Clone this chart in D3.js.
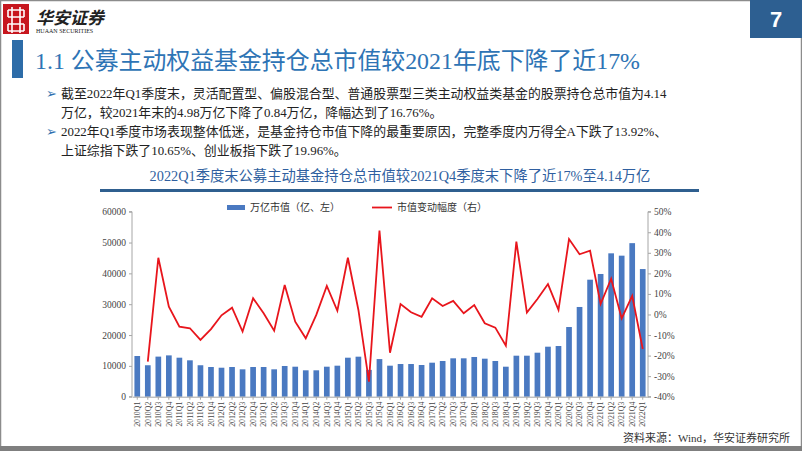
<!DOCTYPE html>
<html><head><meta charset="utf-8">
<script src="https://cdn.jsdelivr.net/npm/d3@7"></script>
<style>
body{margin:0;background:#fff;}
svg{display:block;}
</style></head>
<body>
<svg id="c" width="802" height="451"></svg>
<script>
const categories = ["2010Q1","2010Q2","2010Q3","2010Q4","2011Q1","2011Q2","2011Q3","2011Q4","2012Q1","2012Q2","2012Q3","2012Q4","2013Q1","2013Q2","2013Q3","2013Q4","2014Q1","2014Q2","2014Q3","2014Q4","2015Q1","2015Q2","2015Q3","2015Q4","2016Q1","2016Q2","2016Q3","2016Q4","2017Q1","2017Q2","2017Q3","2017Q4","2018Q1","2018Q2","2018Q3","2018Q4","2019Q1","2019Q2","2019Q3","2019Q4","2020Q1","2020Q2","2020Q3","2020Q4","2021Q1","2021Q2","2021Q3","2021Q4","2022Q1"];
const marketValue = [13200,10200,13000,13400,12650,11800,10200,9630,9400,9630,8880,9630,9630,8880,9960,9730,8560,8560,9730,10060,12650,12980,8700,12200,10060,10600,10600,10280,11030,11580,12450,12450,12880,12330,11580,9730,13300,13300,14270,16220,16440,22600,29100,37950,39800,46500,45740,49800,41400];
const changePct = [null,-22.9,27.6,3.8,-5.9,-6.7,-12.4,-7.1,-0.4,3.3,-8.3,7.9,0.6,-7.9,14.4,-3.5,-11.6,-0.2,13.9,1.8,27.6,2.2,-32.7,40.8,-18.6,5.1,1.1,-1.1,7.9,4.1,6.6,0.6,4.6,-4.3,-6.4,-15.2,35.4,0.9,7.5,14.8,2.2,36.7,29.3,31.0,5.1,17.4,-1.9,9.1,-16.8];
const leftTicks = [0,10000,20000,30000,40000,50000,60000];
const rightTicks = [-40,-30,-20,-10,0,10,20,30,40,50];
const legendLabels = ["万亿市值（亿、左）","市值变动幅度（右）"];

const svg = d3.select("#c");
const serif = "'Liberation Serif','Times New Roman','Noto Sans CJK SC',serif";
const cjk = "'Liberation Serif','Noto Sans CJK SC',serif";

// frame
svg.append("rect").attr("x",0.5).attr("y",0.5).attr("width",801).attr("height",447).attr("fill","none").attr("stroke","#8c8c8c").attr("stroke-width",1.5);
svg.append("rect").attr("x",0).attr("y",446).attr("width",802).attr("height",5).attr("fill","#7f7f7f");

// logo
const lg = svg.append("g");
lg.append("rect").attr("x",3).attr("y",4).attr("width",26).attr("height",30).attr("fill","#c7161e");
lg.append("path").attr("d","M8 10 H24 M8 17 H24 M8 24 H24 M8 31 H24 M12 7 V33 M20 7 V33 M8 10 V17 M24 10 V17 M8 24 V31 M24 24 V31").attr("stroke","#fff").attr("stroke-width",1.6).attr("fill","none");
lg.append("text").attr("x",36).attr("y",24).text("华安证券").attr("font-family","'Noto Sans CJK SC'").attr("font-size",17).attr("font-style","italic").attr("font-weight",700).attr("fill","#222");
lg.append("text").attr("x",36).attr("y",33).text("HUAAN SECURITIES").attr("font-family",serif).attr("font-size",6).attr("fill","#222");

// page number box
svg.append("rect").attr("x",750).attr("y",0).attr("width",52).attr("height",38).attr("fill","#2d5f91");
svg.append("text").attr("x",776).attr("y",27).attr("text-anchor","middle").text("7").attr("font-family","'Liberation Sans',Arial,sans-serif").attr("font-weight",700).attr("font-size",22).attr("fill","#fff");

// title
svg.append("rect").attr("x",12).attr("y",40).attr("width",11).attr("height",38).attr("fill","#2d6ca8");
svg.append("text").attr("x",35).attr("y",69).text("1.1 公募主动权益基金持仓总市值较2021年底下降了近17%").attr("font-family",cjk).attr("font-size",24).attr("textLength",605).attr("lengthAdjust","spacingAndGlyphs").attr("fill","#2e74b5");

// bullets
const bullets = [
 [["截至2022年Q1季度末，灵活配置型、偏股混合型、普通股票型三类主动权益类基金的股票持仓总市值为4.14",98],["万亿，较2021年末的4.98万亿下降了0.84万亿，降幅达到了16.76%。",117]],
 [["2022年Q1季度市场表现整体低迷，是基金持仓市值下降的最重要原因，完整季度内万得全A下跌了13.92%、",136],["上证综指下跌了10.65%、创业板指下跌了19.96%。",155]]
];
bullets.forEach(b=>{
  svg.append("text").attr("x",46).attr("y",b[0][1]).text("➢").attr("font-family","'DejaVu Sans'").attr("font-size",13).attr("fill","#2e6fae");
  b.forEach(l=>svg.append("text").attr("x",61).attr("y",l[1]).text(l[0]).attr("font-family",cjk).attr("font-size",12.9).attr("fill","#222"));
});

// chart title
svg.append("text").attr("x",400).attr("y",181).attr("text-anchor","middle").text("2022Q1季度末公募主动基金持仓总市值较2021Q4季度末下降了近17%至4.14万亿").attr("font-family",cjk).attr("font-size",14.3).attr("fill","#2f5fa0");
svg.append("rect").attr("x",100).attr("y",189).attr("width",599).attr("height",3).attr("fill","#2f5f8f");

// chart
const L=132, R=648, T=211.7, B=396.7;
const x = d3.scaleBand().domain(categories).range([L,R]).paddingInner(0.46).paddingOuter(0.23);
const yL = d3.scaleLinear().domain([0,60000]).range([B,T]);
const yR = d3.scaleLinear().domain([-40,50]).range([B,T]);

svg.append("g").selectAll("rect").data(marketValue).join("rect")
  .attr("x",(d,i)=>x(categories[i])).attr("width",x.bandwidth())
  .attr("y",d=>yL(d)).attr("height",d=>B-yL(d)).attr("fill","#4a79c1");

const line = d3.line().defined(d=>d!=null).x((d,i)=>x(categories[i])+x.bandwidth()/2).y(d=>yR(d));
svg.append("path").datum(changePct).attr("d",line).attr("fill","none").attr("stroke","#e8151c").attr("stroke-width",1.8).attr("stroke-linejoin","miter");

const axL = svg.append("g").attr("transform",`translate(${L},0)`).call(d3.axisLeft(yL).tickValues(leftTicks).tickSize(3).tickFormat(d3.format("d")));
const axR = svg.append("g").attr("transform",`translate(${R},0)`).call(d3.axisRight(yR).tickValues(rightTicks).tickSize(3).tickFormat(d=>d+"%"));
const axB = svg.append("g").attr("transform",`translate(0,${B})`).call(d3.axisBottom(x).tickSize(3).tickSizeOuter(0));
[axL,axR,axB].forEach(a=>{
  a.selectAll("path,line").attr("stroke","#a6a6a6");
  a.selectAll("text").attr("font-family",serif).attr("font-size",9.5).attr("fill","#444");
});
axL.select(".domain").attr("d",`M-3,${T}H0V${B}H-3`);
axR.select(".domain").attr("d",`M3,${T}H0V${B}H3`);
axB.selectAll("text").attr("transform","rotate(-90)").attr("text-anchor","end").attr("x",-5).attr("y",0).attr("dy","0.35em").attr("font-size",7.8);

// legend
svg.append("rect").attr("x",227).attr("y",205).attr("width",18).attr("height",5).attr("fill","#4a79c1");
svg.append("text").attr("x",250).attr("y",211).text(legendLabels[0]).attr("font-family",cjk).attr("font-size",10).attr("fill","#333");
svg.append("line").attr("x1",372).attr("x2",392).attr("y1",207.5).attr("y2",207.5).attr("stroke","#e8151c").attr("stroke-width",1.8);
svg.append("text").attr("x",397).attr("y",211).text(legendLabels[1]).attr("font-family",cjk).attr("font-size",10).attr("fill","#333");

// source
svg.append("text").attr("x",790).attr("y",442).attr("text-anchor","end").text("资料来源：Wind，华安证券研究所").attr("font-family",cjk).attr("font-size",11).attr("fill","#333");
</script>
</body></html>
